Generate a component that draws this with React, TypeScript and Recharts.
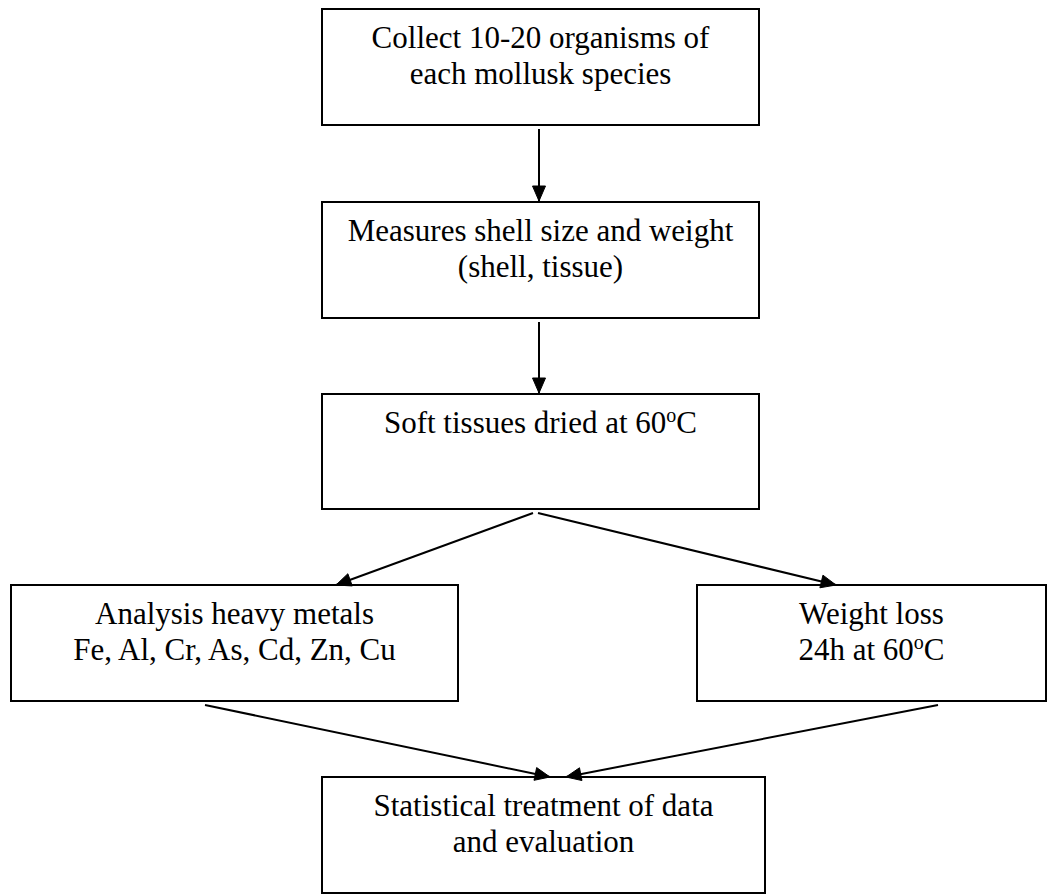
import React from 'react'
import { ComposedChart, XAxis, YAxis, ReferenceArea, Line } from 'recharts'

// ── Flow steps (figure units: 1056 x 896, y grows downwards) ─────────────────

const STEP_TEXT: string[][] = [
  ['Collect 10-20 organisms of', 'each mollusk species'],
  ['Measures shell size and weight', '(shell, tissue)'],
  ['Soft tissues dried at 60^oC'],
  ['Analysis heavy metals', 'Fe, Al, Cr, As, Cd, Zn, Cu'],
  ['Weight loss', '24h at 60^oC'],
  ['Statistical treatment of data', 'and evaluation'],
]

const STEP_LEFT   = [322, 322, 322, 11, 697, 322]
const STEP_RIGHT  = [759, 759, 759, 458, 1046, 765]
const STEP_TOP    = [9, 202, 394, 585, 585, 777]
const STEP_BOTTOM = [125, 318, 509, 701, 701, 893]

// ── Arrows: start and tip ─────────────────────────────────────────────────────

const ARROW_FROM_X = [539, 539, 533, 538, 205, 938]
const ARROW_FROM_Y = [129, 322, 513, 513, 705, 705]
const ARROW_TO_X   = [539, 539, 336, 836, 550, 566]
const ARROW_TO_Y   = [201, 393, 585, 585, 777, 777]

const W = 1056
const H = 896
const FONT = "'Liberation Serif', 'Times New Roman', serif"

// "^x" marks a one-letter superscript (the degree "o" in 60oC)
function renderRuns(line: string) {
  const parts = line.split(/\^(\w)/)
  return parts.map((p, i) => {
    if (i % 2 === 1) {
      return <tspan key={i} dy={-11} fontSize={20}>{p}</tspan>
    }
    if (i > 0) return <tspan key={i} dy={11}>{p}</tspan>
    return <React.Fragment key={i}>{p}</React.Fragment>
  })
}

function StepLabel({ viewBox, lines }: { viewBox?: any; lines: string[] }) {
  if (!viewBox) return null
  const cx = viewBox.x + viewBox.width / 2
  return (
    <text x={cx} y={viewBox.y + 39} textAnchor="middle" fontFamily={FONT} fontSize={31} fill="#000">
      {lines.map((l, i) => (
        <tspan key={i} x={cx} dy={i === 0 ? 0 : 36}>{renderRuns(l)}</tspan>
      ))}
    </text>
  )
}

function arrowHead(p: any, ang: number) {
  if (p.index !== 1) return <g key={`n${p.index}`} />
  const L = 15, hw = 6.5
  const c = Math.cos(ang), s = Math.sin(ang)
  const bx = p.cx - L * c, by = p.cy - L * s
  const pts = [
    `${p.cx},${p.cy}`,
    `${bx - hw * s},${by + hw * c}`,
    `${bx + hw * s},${by - hw * c}`,
  ].join(' ')
  return <polygon key={`h${p.index}`} points={pts} fill="#000" stroke="#000" strokeWidth={1} />
}

export default function App() {
  const arrows = ARROW_FROM_X.map((_, i) => ({
    data: [
      { x: ARROW_FROM_X[i], y: ARROW_FROM_Y[i] },
      { x: ARROW_TO_X[i], y: ARROW_TO_Y[i] },
    ],
    ang: Math.atan2(ARROW_TO_Y[i] - ARROW_FROM_Y[i], ARROW_TO_X[i] - ARROW_FROM_X[i]),
  }))

  return (
    <div style={{ position: 'absolute', left: 0, top: 0, background: '#fff' }}>
      <ComposedChart width={W} height={H} margin={{ top: 0, right: 0, bottom: 0, left: 0 }}>
        <XAxis type="number" dataKey="x" domain={[0, W]} hide allowDataOverflow />
        <YAxis type="number" dataKey="y" domain={[0, H]} reversed hide allowDataOverflow />
        {STEP_TEXT.map((lines, i) => (
          <ReferenceArea
            key={`box${i}`}
            x1={STEP_LEFT[i]}
            x2={STEP_RIGHT[i]}
            y1={STEP_TOP[i]}
            y2={STEP_BOTTOM[i]}
            fill="#fff"
            fillOpacity={1}
            stroke="#000"
            strokeWidth={2}
            ifOverflow="visible"
            label={(props: any) => <StepLabel viewBox={props.viewBox} lines={lines} />}
          />
        ))}
        {arrows.map((a, i) => (
          <Line
            key={`arrow${i}`}
            data={a.data}
            dataKey="y"
            type="linear"
            stroke="#000"
            strokeWidth={2}
            dot={(p: any) => arrowHead(p, a.ang)}
            activeDot={false}
            legendType="none"
            isAnimationActive={false}
          />
        ))}
      </ComposedChart>
    </div>
  )
}
